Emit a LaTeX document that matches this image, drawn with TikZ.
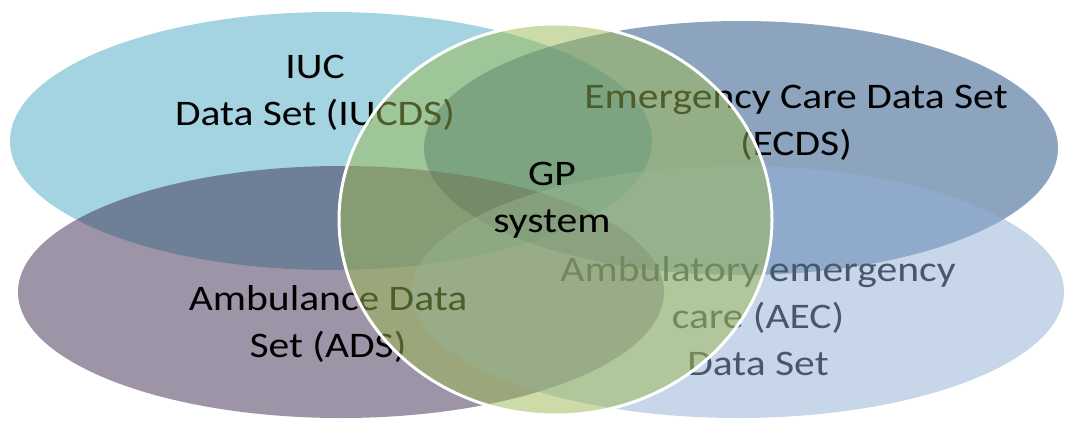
\documentclass[tikz,border=0pt]{standalone}
\usepackage{fontspec}
\setmainfont{Carlito}
\definecolor{iucC}{RGB}{75,171,197}
\definecolor{ecdsC}{RGB}{29,75,129}
\definecolor{adsC}{RGB}{61,43,81}
\definecolor{aecC}{RGB}{145,177,213}
\definecolor{gpC}{RGB}{155,185,81}
\begin{document}
\begin{tikzpicture}[x=1pt,y=-1pt,
  lbl/.style={font=\fontsize{36}{47}\selectfont, align=center, text=black, inner sep=0pt, anchor=base, xscale=1.155},
  blob/.style={fill opacity=0.5, draw=none}]
\useasboundingbox (0,0) rectangle (1076,421);
\fill[white] (0,0) rectangle (1076,421);
\fill[blob, fill=iucC] (331,141) ellipse [x radius=321, y radius=129];
\fill[blob, fill=ecdsC] (741,148) ellipse [x radius=317, y radius=127];
\fill[blob, fill=adsC] (341,292) ellipse [x radius=323, y radius=126];
\node[lbl] (aec) at (758,375) {Ambulatory emergency\\care (AEC)\\Data Set};
\fill[blob, fill=aecC] (738,292) ellipse [x radius=326, y radius=126];
\node[lbl] (iuc) at (315,125) {IUC\\Data Set (IUCDS)};
\node[lbl] (ecds) at (796,155) {Emergency Care Data Set\\(ECDS)};
\node[lbl] (ads) at (328,357) {Ambulance Data\\Set (ADS)};
\fill[blob, fill=gpC] (555.5,219.5) ellipse [x radius=216.5, y radius=195.5];
\draw[white, line width=3] (555.5,219.5) ellipse [x radius=216.5, y radius=195.5];
\node[lbl] (gp) at (552,232) {GP\\system};
\end{tikzpicture}
\end{document}
